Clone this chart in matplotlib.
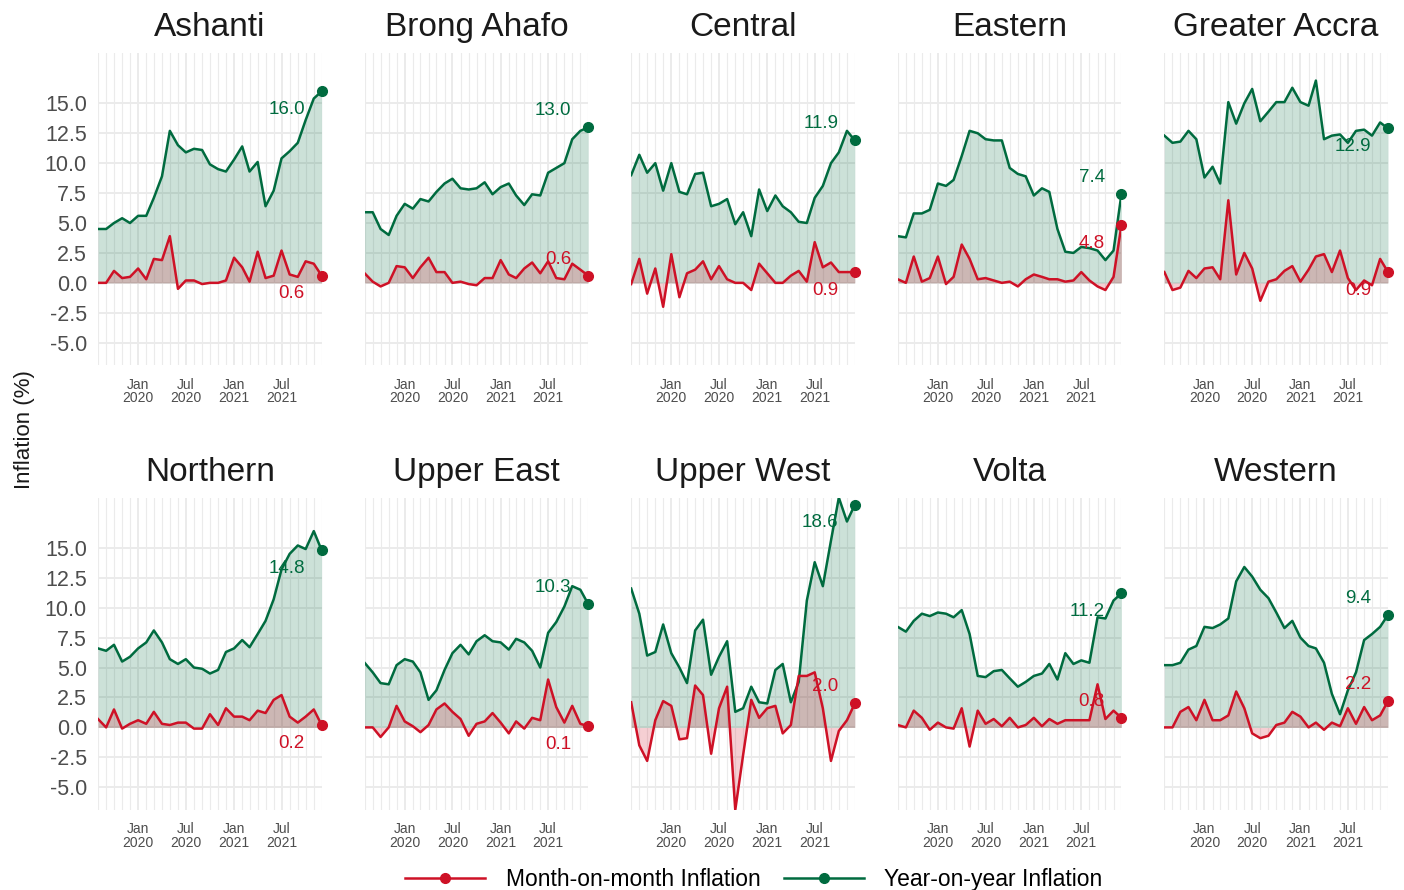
import numpy as np
import pandas as pd
import matplotlib
matplotlib.use("Agg")
import matplotlib.pyplot as plt
import matplotlib.dates as mdates
from matplotlib.lines import Line2D

plt.rcParams["font.family"] = ["Liberation Sans", "DejaVu Sans"]

months = pd.date_range("2019-08-01", "2021-12-01", freq="MS")

regions = ["Ashanti", "Brong Ahafo", "Central", "Eastern", "Greater Accra",
           "Northern", "Upper East", "Upper West", "Volta", "Western"]

# year-on-year inflation (%)
ashanti_yoy = [4.5, 4.5, 5.0, 5.4, 5.0, 5.6, 5.6, 7.1, 8.9, 12.7, 11.5, 10.9, 11.2, 11.1, 9.9,
               9.5, 9.3, 10.3, 11.4, 9.3, 10.1, 6.4, 7.7, 10.4, 11.0, 11.7, 13.6, 15.4, 16.0]
brong_yoy = [5.9, 5.9, 4.5, 4.0, 5.6, 6.6, 6.2, 7.0, 6.8, 7.6, 8.3, 8.7, 7.9, 7.8, 7.9,
             8.4, 7.4, 8.0, 8.3, 7.3, 6.5, 7.4, 7.3, 9.2, 9.6, 10.0, 12.0, 12.7, 13.0]
central_yoy = [9.0, 10.7, 9.2, 10.0, 7.7, 10.0, 7.6, 7.4, 9.1, 9.2, 6.4, 6.6, 7.0, 4.9, 5.9,
               3.9, 7.8, 6.0, 7.3, 6.4, 5.9, 5.1, 5.0, 7.1, 8.1, 10.0, 10.9, 12.7, 11.9]
eastern_yoy = [3.9, 3.8, 5.8, 5.8, 6.1, 8.3, 8.1, 8.6, 10.6, 12.7, 12.5, 12.0, 11.9, 11.9, 9.6,
               9.1, 8.9, 7.3, 7.9, 7.6, 4.5, 2.6, 2.5, 3.0, 2.9, 2.7, 1.9, 2.7, 7.4]
accra_yoy = [12.3, 11.7, 11.8, 12.7, 12.0, 8.8, 9.7, 8.3, 15.1, 13.3, 15.0, 16.2, 13.5, 14.3, 15.1,
             15.1, 16.3, 15.1, 14.8, 16.9, 12.0, 12.3, 12.4, 11.7, 12.7, 12.8, 12.3, 13.4, 12.9]
northern_yoy = [6.6, 6.4, 6.9, 5.5, 5.9, 6.6, 7.1, 8.1, 7.1, 5.7, 5.3, 5.7, 5.0, 4.9, 4.5,
                4.8, 6.3, 6.6, 7.3, 6.7, 7.8, 8.9, 10.7, 13.2, 14.5, 15.2, 14.9, 16.4, 14.8]
ueast_yoy = [5.4, 4.6, 3.7, 3.6, 5.2, 5.7, 5.5, 4.6, 2.3, 3.1, 4.8, 6.2, 6.9, 6.1, 7.2,
             7.7, 7.2, 7.1, 6.5, 7.4, 7.1, 6.4, 5.0, 7.9, 8.8, 10.1, 11.8, 11.5, 10.3]
uwest_yoy = [11.6, 9.5, 6.0, 6.3, 8.6, 6.2, 5.0, 3.7, 8.1, 9.0, 4.4, 5.9, 7.2, 1.3, 1.6,
             3.4, 2.1, 2.0, 4.8, 5.3, 2.1, 3.8, 10.6, 13.8, 11.8, 15.6, 19.2, 17.2, 18.6]
volta_yoy = [8.4, 8.0, 8.9, 9.5, 9.3, 9.6, 9.5, 9.2, 9.8, 7.8, 4.3, 4.2, 4.7, 4.8, 4.1,
             3.4, 3.8, 4.3, 4.5, 5.3, 4.0, 6.2, 5.3, 5.6, 5.4, 9.2, 9.1, 10.6, 11.2]
western_yoy = [5.2, 5.2, 5.4, 6.5, 6.8, 8.4, 8.3, 8.6, 9.1, 12.2, 13.4, 12.6, 11.5, 10.8, 9.6,
               8.3, 8.9, 7.5, 6.8, 6.6, 5.4, 2.8, 1.1, 3.1, 4.6, 7.3, 7.8, 8.4, 9.4]

# month-on-month inflation (%)
ashanti_mom = [0.0, 0.0, 1.0, 0.4, 0.5, 1.2, 0.3, 2.0, 1.9, 3.9, -0.5, 0.2, 0.2, -0.1, 0.0,
               0.0, 0.2, 2.1, 1.3, 0.1, 2.6, 0.4, 0.6, 2.7, 0.7, 0.5, 1.8, 1.6, 0.6]
brong_mom = [0.8, 0.1, -0.3, 0.0, 1.4, 1.3, 0.4, 1.3, 2.1, 0.9, 0.9, 0.0, 0.1, -0.1, -0.2,
             0.4, 0.4, 1.9, 0.7, 0.4, 1.2, 1.7, 0.8, 1.8, 0.4, 0.3, 1.6, 1.1, 0.6]
central_mom = [-0.1, 2.0, -0.9, 1.2, -2.0, 2.4, -1.2, 0.8, 1.1, 1.8, 0.3, 1.4, 0.3, 0.0, 0.0,
               -0.6, 1.6, 0.8, 0.0, 0.0, 0.6, 1.0, 0.1, 3.4, 1.3, 1.7, 0.9, 0.9, 0.9]
eastern_mom = [0.3, 0.0, 2.2, 0.1, 0.4, 2.2, -0.1, 0.5, 3.2, 2.0, 0.3, 0.4, 0.2, 0.0, 0.1,
               -0.3, 0.3, 0.7, 0.5, 0.3, 0.3, 0.1, 0.2, 0.9, 0.2, -0.3, -0.6, 0.5, 4.8]
accra_mom = [0.9, -0.6, -0.4, 1.0, 0.4, 1.2, 1.3, 0.3, 6.9, 0.7, 2.5, 1.2, -1.5, 0.1, 0.3,
             1.0, 1.4, 0.1, 1.1, 2.2, 2.4, 0.9, 2.7, 0.4, -0.6, 0.2, -0.2, 2.0, 0.9]
northern_mom = [0.7, 0.0, 1.5, -0.1, 0.3, 0.6, 0.3, 1.3, 0.3, 0.2, 0.4, 0.4, -0.1, -0.1, 1.1,
                0.2, 1.6, 0.9, 0.9, 0.6, 1.4, 1.2, 2.3, 2.7, 0.9, 0.4, 0.9, 1.5, 0.2]
ueast_mom = [0.0, 0.0, -0.8, 0.0, 1.8, 0.5, 0.1, -0.4, 0.2, 1.5, 2.0, 1.3, 0.7, -0.7, 0.3,
             0.5, 1.2, 0.4, -0.5, 0.5, -0.1, 0.8, 0.6, 4.0, 1.7, 0.4, 1.8, 0.3, 0.1]
uwest_mom = [2.1, -1.5, -2.8, 0.6, 2.2, 1.8, -1.0, -0.9, 3.5, 2.7, -2.2, 1.6, 3.4, -6.9, -2.3,
             2.3, 0.8, 1.6, 1.8, -0.5, 0.2, 4.3, 4.3, 4.6, 1.6, -2.8, -0.3, 0.6, 2.0]
volta_mom = [0.2, 0.0, 1.4, 0.8, -0.2, 0.4, 0.0, -0.1, 1.6, -1.6, 1.4, 0.3, 0.7, 0.1, 0.8,
             0.0, 0.2, 0.8, 0.1, 0.7, 0.3, 0.6, 0.6, 0.6, 0.6, 3.6, 0.7, 1.4, 0.8]
western_mom = [0.0, 0.0, 1.3, 1.7, 0.6, 2.3, 0.6, 0.6, 1.0, 3.0, 1.6, -0.5, -0.9, -0.7, 0.2,
               0.4, 1.3, 0.9, 0.0, 0.4, -0.2, 0.4, 0.1, 1.6, 0.3, 1.7, 0.6, 1.0, 2.2]

yoy = [ashanti_yoy, brong_yoy, central_yoy, eastern_yoy, accra_yoy,
       northern_yoy, ueast_yoy, uwest_yoy, volta_yoy, western_yoy]
mom = [ashanti_mom, brong_mom, central_mom, eastern_mom, accra_mom,
       northern_mom, ueast_mom, uwest_mom, volta_mom, western_mom]

# where the end-of-series labels sit relative to the last point
yoy_label_side = ["below", "above", "above", "above", "below",
                  "below", "above", "below", "below", "above"]
mom_label_side = ["below", "above", "below", "below", "below",
                  "below", "below", "above", "above", "above"]

RED = "#CE1126"
GREEN = "#006B3F"
GRID = "#EBEBEB"
TXT = "#4D4D4D"

ymin = min(min(s) for s in mom + yoy)
ymax = max(max(s) for s in mom + yoy)

fig, axes = plt.subplots(2, 5, figsize=(14.04, 8.9), dpi=100, sharey=True)
fig.subplots_adjust(left=0.0698, right=0.9886, top=0.9404, bottom=0.0899,
                    wspace=0.192, hspace=0.423)

for k, ax in enumerate(axes.flat):
    g = np.array(yoy[k])
    r = np.array(mom[k])
    ax.fill_between(months, 0, g, color=GREEN, alpha=0.2, linewidth=0)
    ax.fill_between(months, 0, r, color=RED, alpha=0.2, linewidth=0)
    ax.plot(months, g, color=GREEN, lw=1.8, zorder=3)
    ax.plot(months, r, color=RED, lw=1.8, zorder=3)
    ax.plot(months[-1], g[-1], "o", color=GREEN, ms=7, zorder=4, clip_on=False)
    ax.plot(months[-1], r[-1], "o", color=RED, ms=7, zorder=4, clip_on=False)

    for val, side, col in [(g[-1], yoy_label_side[k], GREEN), (r[-1], mom_label_side[k], RED)]:
        dy = 12 if side == "above" else -13
        ax.annotate(f"{val:.1f}", (months[-1], val), xytext=(-12, dy),
                    textcoords="offset points", ha="right", va="center",
                    color=col, fontsize=13.5, zorder=5)

    ax.set_title(regions[k], fontsize=24, color="#1A1A1A", pad=12)
    ax.set_xlim(months[0], months[-1])
    ax.set_ylim(ymin, ymax)
    ax.set_yticks(np.arange(-5, 15.1, 2.5))
    ax.yaxis.set_major_formatter(plt.FuncFormatter(lambda v, p: f"{v:.1f}"))
    ax.xaxis.set_major_locator(mdates.MonthLocator(bymonth=[1, 7]))
    ax.xaxis.set_minor_locator(mdates.MonthLocator())
    ax.xaxis.set_major_formatter(mdates.DateFormatter("%b\n%Y"))
    ax.grid(True, which="major", color=GRID, lw=1.4)
    ax.grid(True, which="minor", axis="x", color=GRID, lw=0.8)
    ax.set_axisbelow(True)
    for sp in ax.spines.values():
        sp.set_visible(False)
    ax.tick_params(axis="both", which="both", length=0)
    ax.tick_params(axis="x", labelsize=10, labelcolor=TXT, pad=9)
    ax.tick_params(axis="y", labelsize=15.5, labelcolor=TXT, pad=8)
    for lab in ax.get_xticklabels():
        lab.set_linespacing(0.95)

fig.text(0.0178, 0.517, "Inflation (%)", rotation=90, ha="center", va="center",
         fontsize=16, color="#1A1A1A")

handles = [Line2D([], [], color=RED, lw=1.8, marker="o", ms=7),
           Line2D([], [], color=GREEN, lw=1.8, marker="o", ms=7)]
fig.legend(handles, ["Month-on-month Inflation", "Year-on-year Inflation"],
           loc="center", bbox_to_anchor=(0.537, 0.012), ncol=2, frameon=False,
           fontsize=16.5, handlelength=3.5, handletextpad=0.9, columnspacing=1.0,
           markerfirst=True)

fig.savefig("out.png", dpi=100)
